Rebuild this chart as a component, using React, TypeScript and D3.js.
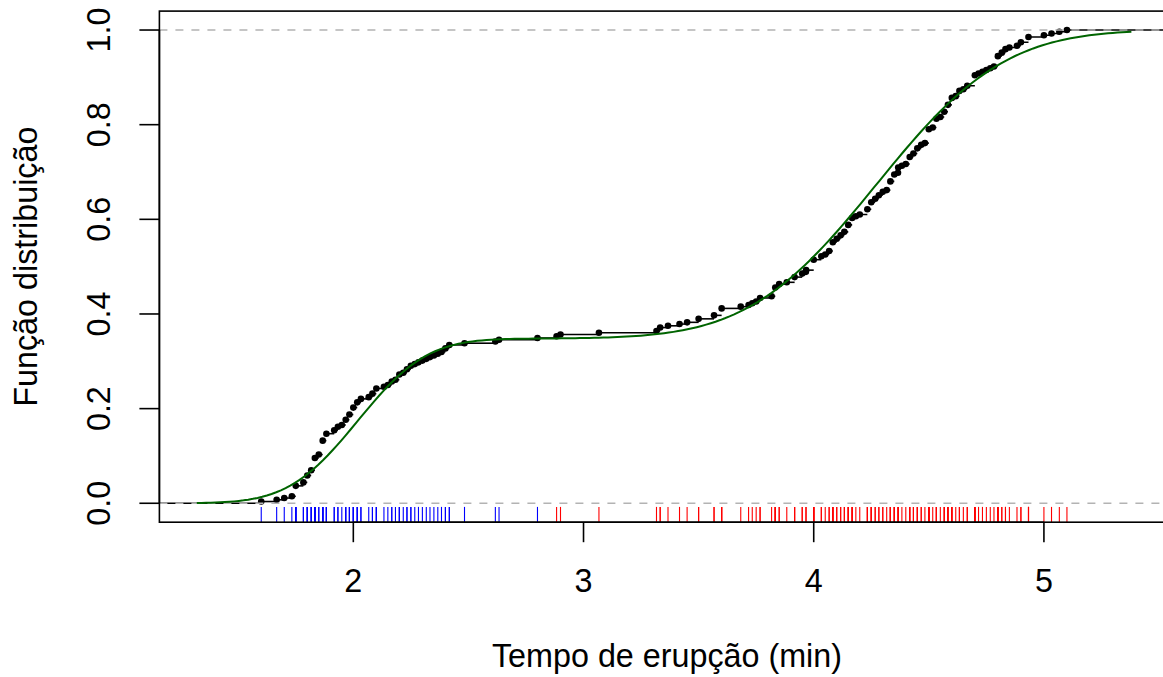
import React from "react";
import * as d3 from "d3";

// Old Faithful eruption durations (min)
const eruptions: number[] = [
  3.6, 1.8, 3.333, 2.283, 4.533, 2.883, 4.7, 3.6, 1.95, 4.35, 1.833, 3.917,
  4.2, 1.75, 4.7, 2.167, 1.75, 4.8, 1.6, 4.25, 1.8, 1.75, 3.45, 3.067,
  4.533, 3.6, 1.967, 4.083, 3.85, 4.433, 4.3, 4.467, 3.367, 4.033, 3.833, 2.017,
  1.867, 4.833, 1.833, 4.783, 4.35, 1.883, 4.567, 1.75, 4.533, 3.317, 3.833, 2.1,
  4.633, 2.0, 4.8, 4.716, 1.833, 4.833, 1.733, 4.883, 3.717, 1.667, 4.567, 4.317,
  2.233, 4.5, 1.75, 4.8, 1.817, 4.4, 4.167, 4.7, 2.067, 4.7, 4.033, 1.967,
  4.5, 4.0, 1.983, 5.067, 2.017, 4.567, 3.883, 3.6, 4.133, 4.333, 4.1, 2.633,
  4.067, 4.933, 3.95, 4.517, 2.167, 4.0, 2.2, 4.333, 1.867, 4.817, 1.833, 4.3,
  4.667, 3.75, 1.867, 4.9, 2.483, 4.367, 2.1, 4.5, 4.05, 1.867, 4.7, 1.783,
  4.85, 3.683, 4.733, 2.3, 4.9, 4.417, 1.7, 4.633, 2.317, 4.6, 1.817, 4.417,
  2.617, 4.067, 4.25, 1.967, 4.6, 3.767, 1.917, 4.5, 2.267, 4.65, 1.867, 4.167,
  2.8, 4.333, 1.833, 4.383, 1.883, 4.933, 2.033, 3.733, 4.233, 2.233, 4.533, 4.817,
  4.333, 1.983, 4.633, 2.017, 5.1, 1.8, 5.033, 4.0, 2.4, 4.6, 3.567, 4.0,
  4.5, 4.083, 1.8, 3.967, 2.2, 4.15, 2.0, 3.833, 3.5, 4.583, 2.367, 5.0,
  1.933, 4.617, 1.917, 2.083, 4.583, 3.333, 4.167, 4.333, 4.5, 2.417, 4.0, 4.167,
  1.883, 4.583, 4.25, 3.767, 2.033, 4.433, 4.083, 1.833, 4.417, 2.183, 4.8, 1.833,
  4.8, 4.1, 3.966, 4.233, 3.5, 4.366, 2.25, 4.667, 2.1, 4.35, 4.133, 1.867,
  4.6, 1.783, 4.367, 3.85, 1.933, 4.5, 2.383, 4.7, 1.867, 3.833, 3.417, 4.233,
  2.4, 4.8, 2.0, 4.15, 1.867, 4.267, 1.75, 4.483, 4.0, 4.117, 4.083, 4.267,
  3.917, 4.55, 4.083, 2.417, 4.183, 2.217, 4.45, 1.883, 1.85, 4.283, 3.95, 2.333,
  4.15, 2.35, 4.933, 2.9, 4.583, 3.833, 2.083, 4.367, 2.133, 4.35, 2.2, 4.45,
  3.567, 4.5, 4.15, 3.817, 3.917, 4.45, 2.0, 4.283, 4.767, 4.533, 1.85, 4.25,
  1.983, 2.25, 4.75, 4.117, 2.15, 4.417, 1.817, 4.467,
];

// Two-component normal mixture fit
const mixLambda = [0.348, 0.652];
const mixMu = [2.019, 4.273];
const mixSigma = [0.236, 0.437];
const clusterSplit = 2.85; // component 1 (blue) below, component 2 (red) above

const xTicks = [2, 3, 4, 5];
const yTicks = [0, 0.2, 0.4, 0.6, 0.8, 1.0];
const xLabel = "Tempo de erupção (min)";
const yLabel = "Função distribuição";

function erf(x: number): number {
  const s = x < 0 ? -1 : 1;
  const a = Math.abs(x);
  const t = 1 / (1 + 0.3275911 * a);
  const y =
    1 -
    ((((1.061405429 * t - 1.453152027) * t + 1.421413741) * t - 0.284496736) * t +
      0.254829592) *
      t *
      Math.exp(-a * a);
  return s * y;
}
const pnorm = (x: number, m: number, s: number) => 0.5 * (1 + erf((x - m) / (s * Math.SQRT2)));
const mixCdf = (x: number) =>
  mixLambda.reduce((acc, l, i) => acc + l * pnorm(x, mixMu[i], mixSigma[i]), 0);

export default function App() {
  const W = 1163,
    H = 677;
  const n = eruptions.length;
  const sorted = [...eruptions].sort((a, b) => a - b);
  const uniq = Array.from(new Set(sorted));
  const F = uniq.map((v) => d3.bisectRight(sorted, v) / n);

  const rx = d3.extent(sorted) as [number, number];
  const dr = 0.08 * (rx[1] - rx[0]);
  const xlim: [number, number] = [rx[0] - dr, rx[1] + dr];
  const ext = 0.04 * (xlim[1] - xlim[0]);
  const usrX: [number, number] = [xlim[0] - ext, xlim[1] + ext];

  const left = 159.4;
  const unit = 230.2;
  const x = d3
    .scaleLinear()
    .domain(usrX)
    .range([left, left + (usrX[1] - usrX[0]) * unit]);
  const y = d3.scaleLinear().domain([-0.04, 1.04]).range([522.2, 11.1]);

  const plotL = x.range()[0],
    plotR = x.range()[1];
  const plotT = y.range()[1],
    plotB = y.range()[0];

  const font = "'Liberation Sans', Arial, Helvetica, sans-serif";
  const fs = 32.3;

  // ECDF segments
  const ti = [xlim[0] - dr, ...uniq, xlim[1] + dr];
  const levels = [0, ...F];
  const segs = levels.map((lv, i) => ({ x0: ti[i], x1: ti[i + 1], y: lv }));

  const curveXs = d3.range(0, 201).map((i) => xlim[0] + ((xlim[1] - xlim[0]) * i) / 200);
  const line = d3
    .line<number>()
    .x((d) => x(d))
    .y((d) => y(mixCdf(d)));

  return (
    <svg
      width={W}
      height={H}
      style={{ position: "absolute", left: 0, top: 0, background: "#fff" }}
      fontFamily={font}
    >
      <defs>
        <clipPath id="plotclip">
          <rect x={plotL} y={plotT} width={plotR - plotL} height={plotB - plotT} />
        </clipPath>
      </defs>
      <g clipPath="url(#plotclip)">
        {segs.map((s, i) => (
          <line key={"s" + i} x1={x(s.x0)} x2={x(s.x1)} y1={y(s.y)} y2={y(s.y)} stroke="#000" strokeWidth={1.6} />
        ))}
        {uniq.map((v, i) => (
          <circle key={"p" + i} cx={x(v)} cy={y(F[i])} r={3.3} fill="#000" />
        ))}
        {[0, 1].map((h) => (
          <line
            key={"h" + h}
            x1={plotL}
            x2={plotR}
            y1={y(h)}
            y2={y(h)}
            stroke="#b3b3b3"
            strokeWidth={1.6}
            strokeDasharray="8,8"
          />
        ))}
        <path d={line(curveXs) || ""} fill="none" stroke="#006400" strokeWidth={2} />
        {eruptions.map((v, i) => (
          <line
            key={"r" + i}
            x1={x(v)}
            x2={x(v)}
            y1={plotB}
            y2={plotB - 15.3}
            stroke={v < clusterSplit ? "#0000ff" : "#ff0000"}
            strokeWidth={1.1}
          />
        ))}
      </g>
      {/* box */}
      <rect x={plotL} y={plotT} width={plotR - plotL} height={plotB - plotT} fill="none" stroke="#000" strokeWidth={1.6} />
      {/* x axis */}
      <line x1={x(xTicks[0])} x2={x(xTicks[xTicks.length - 1])} y1={plotB} y2={plotB} stroke="#000" strokeWidth={1.6} />
      {xTicks.map((t) => (
        <g key={"xt" + t}>
          <line x1={x(t)} x2={x(t)} y1={plotB} y2={plotB + 20} stroke="#000" strokeWidth={1.6} />
          <text x={x(t)} y={592} textAnchor="middle" fontSize={fs} fill="#000">
            {t}
          </text>
        </g>
      ))}
      {/* y axis */}
      <line x1={plotL} x2={plotL} y1={y(0)} y2={y(1)} stroke="#000" strokeWidth={1.6} />
      {yTicks.map((t) => (
        <g key={"yt" + t}>
          <line x1={plotL - 20} x2={plotL} y1={y(t)} y2={y(t)} stroke="#000" strokeWidth={1.6} />
          <text
            transform={`translate(110,${y(t)}) rotate(-90)`}
            textAnchor="middle"
            fontSize={fs}
            fill="#000"
          >
            {t.toFixed(1)}
          </text>
        </g>
      ))}
      <text x={667} y={667} textAnchor="middle" fontSize={fs} fill="#000">
        {xLabel}
      </text>
      <text
        transform={`translate(37,${(plotT + plotB) / 2}) rotate(-90)`}
        textAnchor="middle"
        fontSize={fs}
        fill="#000"
      >
        {yLabel}
      </text>
    </svg>
  );
}
